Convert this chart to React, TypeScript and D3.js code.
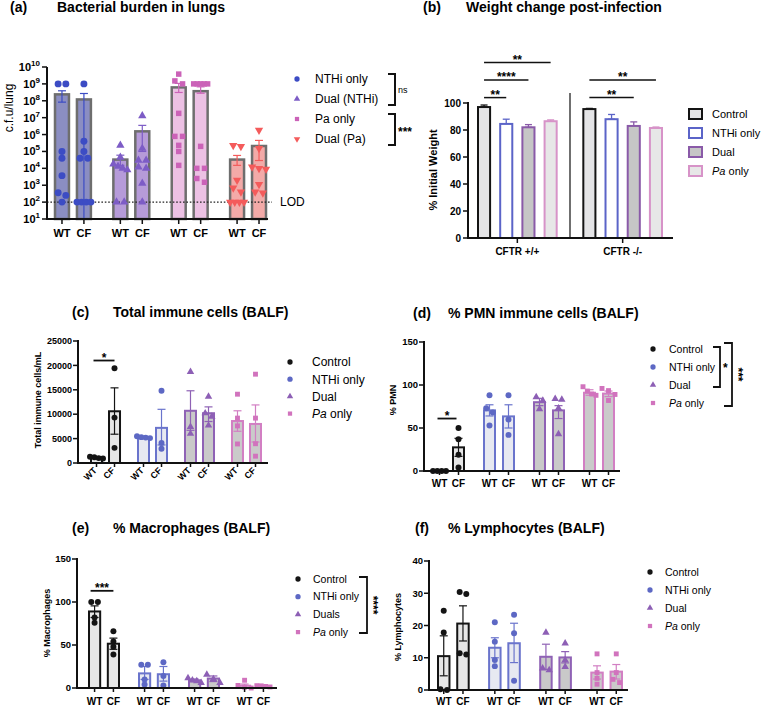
import React, { useEffect, useRef } from "react";
import * as d3 from "d3";

const FONT = "'Liberation Sans', Arial, Helvetica, sans-serif";

// ---------------- Panel (a): bacterial burden ----------------
const groupsA = ["NTHi only", "Dual (NTHi)", "Pa only", "Dual (Pa)"];
const genotypes = ["WT", "CF"];
const meansA = [[2.4e8, 1.2e8], [3.3e4, 1.55e6], [6.2e8, 3.7e8], [3.3e4, 2.1e5]];
const errLowA = [[8.3e7, 10], [1.5e4, 1e5], [3.1e8, 2.8e8], [1.5e4, 2.9e4]];
const errHighA = [[3.9e8, 2.7e8], [6e4, 3.5e6], [1.07e9, 6.7e8], [5.8e4, 4.5e5]];
const pointsA = [
  [[1e9, 1e9, 1e5, 4e4, 3.7e3, 3.6e2, 2.5e2, 1e2], [1e9, 4e5, 1e5, 4e4, 4e4, 1e2, 1e2, 1e2, 1e2]],
  [[2.3e5, 4.5e4, 1.8e4, 1.3e4, 1e4, 8e3, 1e2, 1e2], [1.3e7, 1.5e5, 3e4, 3e4, 1.2e4, 1e4, 1.3e3, 1e2]],
  [[3.8e9, 1.5e9, 1e9, 1.8e7, 7.8e5, 7.8e5, 2.3e5, 1e5, 1.5e4], [1e9, 1e9, 1e9, 1e9, 1e9, 2e5, 1e4, 1e4, 2.5e3, 1.5e3]],
  [[2.3e5, 2e5, 2e3, 7e2, 4e2, 1e2, 1e2, 1e2, 1e2], [1.8e6, 1.5e5, 1.2e4, 1e4, 9e3, 1.1e3, 4e2, 3.5e2]],
];
const ticksA = [1e1, 1e2, 1e3, 1e4, 1e5, 1e6, 1e7, 1e8, 1e9, 1e10];
const lodA = 100;
const barFillA = ["#8b8ec2", "#b69bd9", "#ecc1e4", "#f3aaa8"];
const pointColA = ["#3c4cc4", "#7d5cc6", "#cb62b8", "#f45b5b"];
const symA = ["circle", "triangle", "square", "triangleDown"];
const sigA = [["ns", 0, 1], ["***", 2, 3]];

// ---------------- Panel (b): weight change ----------------
const genotypeB = ["CFTR +/+", "CFTR -/-"];
const treatmentsB = ["Control", "NTHi only", "Dual", "Pa only"];
const meansB = [[97, 84.5, 82, 86.5], [95.5, 88, 83, 81.5]];
const semB = [[1.5, 3.5, 2, 1], [0.5, 3.5, 3, 0.7]];
const ticksB = [0, 20, 40, 60, 80, 100];
// [genotype, from treatment, to treatment, y value, label]
const sigB: [number, number, number, number, string][] = [
  [0, 0, 3, 130, "**"],
  [0, 0, 2, 117, "****"],
  [0, 0, 1, 104, "**"],
  [1, 0, 3, 117, "**"],
  [1, 0, 2, 104, "**"],
];

// ---------------- Panels (c)-(f): BALF ----------------
const treatments = ["Control", "NTHi only", "Dual", "Pa only"];
const treatmentsE = ["Control", "NTHi only", "Duals", "Pa only"];

const meansC = [[1100, 10600], [5300, 7200], [10700, 10200], [8600, 8000]];
const errLoC = [[950, 5900], [5150, 3700], [6700, 8500], [6500, 4300]];
const errHiC = [[1250, 15400], [5450, 11000], [14800, 11500], [10700, 11900]];
const pointsC = [
  [[1300, 1200, 1000, 900], [19400, 9300, 3100]],
  [[5500, 5300, 5200, 5100], [14800, 4100, 2900]],
  [[18700, 7400, 6000], [13600, 10200, 9500, 7700]],
  [[14100, 9200, 7600, 3900], [18200, 9200, 3950, 1400]],
];
const ticksC = [0, 5000, 10000, 15000, 20000, 25000];

const meansD = [[0, 27.5], [70.5, 63.5], [80, 70.5], [91, 90]];
const errLoD = [[0, 17], [64, 50], [76, 61], [88, 86.5]];
const errHiD = [[0, 38], [77, 77], [84.5, 76], [94.5, 93]];
const pointsD = [
  [[0, 0, 0, 0], [50, 37, 19, 4]],
  [[88, 73, 68, 53], [88, 60, 42]],
  [[86, 82, 72], [84, 83, 73, 43]],
  [[98, 93, 89.5, 88], [96, 93.5, 89, 82]],
];
const ticksD = [0, 50, 100, 150];

const meansE = [[89, 51.5], [17, 16], [9, 11], [2.7, 1.9]];
const errLoE = [[82, 45], [10, 8], [7.5, 7.5], [0.5, 1]];
const errHiE = [[95.5, 58], [25, 25], [10.5, 14], [4.6, 2.8]];
const pointsE = [
  [[100, 100, 82, 76], [66, 54, 48, 39]],
  [[27, 27, 10, 4], [30, 14, 3]],
  [[11.5, 9, 8, 6], [15.5, 10.5, 6]],
  [[9, 3, 1, 0], [2.7, 2.5, 1.8, 1.2]],
];
const ticksE = [0, 50, 100, 150];

const meansF = [[10.5, 20.6], [13.1, 14.5], [10.3, 10.1], [5.4, 5.7]];
const errLoF = [[4.4, 15.2], [10, 8.5], [6.4, 8.4], [3.4, 3.4]];
const errHiF = [[16.8, 26.1], [16.2, 20.7], [14.2, 11.9], [7.5, 7.9]];
const pointsF = [
  [[24.6, 17.8, 0.2, 0], [30.4, 29.8, 11.4, 11]],
  [[21, 15, 9.3, 7.4], [23.3, 17.6, 2.9]],
  [[17.8, 6.7, 6.2], [14.5, 9.3, 7.2]],
  [[11.2, 5.4, 3.6, 1.8], [11.2, 5.4, 3.3, 2.3]],
];
const ticksF = [0, 10, 20, 30, 40];

const strokeT = ["#141414", "#6a74cc", "#8f62b5", "#d27fc3"];
const fillT = ["#e6e6e6", "#e7e9f1", "#c9c9c9", "#cacaca"];
const pointT = ["#141414", "#5d68c4", "#8d5fb5", "#d173bd"];
const symT = ["circle", "circle", "triangle", "square"];
const fillB = ["#e4e4e6", "#ffffff", "#c6c6c6", "#e7e7e7"];
const strokeB = ["#141414", "#5b64c8", "#8a5aa8", "#d793c8"];

type Sel = d3.Selection<any, any, any, any>;

function symbolPath(type: string, size: number) {
  const t =
    type === "circle" ? d3.symbolCircle : type === "square" ? d3.symbolSquare : d3.symbolTriangle;
  return d3.symbol().type(t).size(size)() as string;
}

function drawSym(g: Sel, type: string, x: number, y: number, size: number, color: string) {
  g.append("path")
    .attr("d", symbolPath(type, size))
    .attr("transform", `translate(${x},${y})${type === "triangleDown" ? " rotate(180)" : ""}`)
    .attr("fill", color);
}

function swarm(vals: number[], ys: (v: number) => number, cx: number, r: number, maxW: number) {
  const items = vals.map((v) => ({ v, y: ys(v) })).sort((a, b) => a.y - b.y);
  const clusters: { v: number; y: number }[][] = [];
  let cur: { v: number; y: number }[] = [];
  for (const it of items) {
    if (cur.length && it.y - cur[cur.length - 1].y > r * 1.6) {
      clusters.push(cur);
      cur = [];
    }
    cur.push(it);
  }
  if (cur.length) clusters.push(cur);
  const out: { x: number; y: number }[] = [];
  for (const c of clusters) {
    const n = c.length;
    const step = n > 1 ? Math.min(r * 2.2, maxW / (n - 1)) : 0;
    c.forEach((it, k) => out.push({ x: cx + (k - (n - 1) / 2) * step, y: it.y }));
  }
  return out;
}

function title(g: Sel, tag: string, tagX: number, text: string, textX: number, y: number) {
  g.append("text").attr("x", tagX).attr("y", y).attr("font-size", 14).attr("font-weight", "bold").text(tag);
  g.append("text").attr("x", textX).attr("y", y).attr("font-size", 14).attr("font-weight", "bold").text(text);
}

function errorBar(g: Sel, cx: number, y1: number, y2: number, cap: number, color: string, w = 1.2) {
  g.append("line").attr("x1", cx).attr("x2", cx).attr("y1", y1).attr("y2", y2).attr("stroke", color).attr("stroke-width", w);
  [y1, y2].forEach((yy) =>
    g.append("line").attr("x1", cx - cap).attr("x2", cx + cap).attr("y1", yy).attr("y2", yy).attr("stroke", color).attr("stroke-width", w)
  );
}

function italicPaLabel(t: Sel, label: string) {
  if (label.startsWith("Pa ")) {
    t.append("tspan").attr("font-style", "italic").text("Pa");
    t.append("tspan").text(label.slice(2));
  } else t.text(label);
}

function drawA(svg: Sel) {
  const g = svg.append("g");
  title(g, "(a)", 10, "Bacterial burden in lungs", 57, 12);
  const y = d3.scaleLog().domain([10, 1e10]).range([219, 67]);
  const axX = 47;
  const outer = d3.scaleBand<number>().domain(d3.range(groupsA.length)).range([55, 266]).paddingInner(0.385).paddingOuter(0);
  const inner = d3.scaleBand<number>().domain(d3.range(genotypes.length)).range([0, outer.bandwidth()]).paddingInner(0.364).paddingOuter(0);
  const bw = inner.bandwidth();

  groupsA.forEach((_, gi) => {
    genotypes.forEach((_, i) => {
      const x0 = outer(gi)! + inner(i)!;
      g.append("rect")
        .attr("x", x0).attr("y", y(meansA[gi][i]))
        .attr("width", bw).attr("height", y(10) - y(meansA[gi][i]))
        .attr("fill", barFillA[gi]).attr("stroke", "#6e6e6e").attr("stroke-width", 2.5);
    });
  });
  g.append("line").attr("x1", axX).attr("x2", 272).attr("y1", y(lodA)).attr("y2", y(lodA))
    .attr("stroke", "#222").attr("stroke-width", 1.4).attr("stroke-dasharray", "1.6,1.8");
  g.append("text").attr("x", 280).attr("y", y(lodA) + 4).attr("font-size", 12).text("LOD");

  groupsA.forEach((_, gi) => {
    genotypes.forEach((gt, i) => {
      const x0 = outer(gi)! + inner(i)!;
      const cx = x0 + bw / 2;
      errorBar(g, cx, y(Math.max(10, errLowA[gi][i])), y(errHighA[gi][i]), 4, pointColA[gi], 1.2);
      swarm(pointsA[gi][i], (v) => y(v), cx, 3.5, bw).forEach((p) =>
        drawSym(g, symA[gi], p.x, p.y, symA[gi] === "circle" ? 38 : 30, pointColA[gi])
      );
      g.append("line").attr("x1", cx).attr("x2", cx).attr("y1", 219).attr("y2", 224).attr("stroke", "#111").attr("stroke-width", 1.5);
      g.append("text").attr("x", cx).attr("y", 237).attr("text-anchor", "middle").attr("font-size", 11).attr("font-weight", "bold").text(gt);
    });
  });

  // axes
  g.append("line").attr("x1", axX).attr("x2", axX).attr("y1", 67).attr("y2", 220).attr("stroke", "#111").attr("stroke-width", 2);
  g.append("line").attr("x1", axX - 1).attr("x2", 268).attr("y1", 219).attr("y2", 219).attr("stroke", "#111").attr("stroke-width", 2);
  ticksA.forEach((t) => {
    g.append("line").attr("x1", axX - 5).attr("x2", axX).attr("y1", y(t)).attr("y2", y(t)).attr("stroke", "#111").attr("stroke-width", 1.5);
    const tx = g.append("text").attr("x", axX - 7).attr("y", y(t) + 4).attr("text-anchor", "end").attr("font-size", 11).attr("font-weight", "bold");
    tx.append("tspan").text("10");
    tx.append("tspan").attr("dy", -5).attr("font-size", 8).text(String(Math.round(Math.log10(t))));
  });
  g.append("text").attr("transform", "translate(13,108) rotate(-90)").attr("text-anchor", "middle").attr("font-size", 12).text("c.f.u/lung");

  // legend
  const legY = (i: number) => 79 + i * 20;
  groupsA.forEach((name, gi) => {
    const ly = legY(gi);
    drawSym(g, symA[gi], 297, ly, symA[gi] === "circle" ? 22 : 18, pointColA[gi]);
    g.append("text").attr("x", 315).attr("y", ly + 4).attr("font-size", 12).text(name);
  });
  sigA.forEach(([lab, a, b]) => {
    const y1 = legY(a as number) - 5;
    const y2 = legY(b as number) + 6;
    g.append("path").attr("d", `M388,${y1}H395V${y2}H388`).attr("fill", "none").attr("stroke", "#111").attr("stroke-width", 2);
    g.append("text").attr("x", 398).attr("y", (y1 + y2) / 2 + (lab === "ns" ? 3 : 6))
      .attr("font-size", lab === "ns" ? 9 : 12).attr("font-weight", lab === "ns" ? "normal" : "bold").text(lab as string);
  });
}

function drawB(svg: Sel) {
  const g = svg.append("g");
  title(g, "(b)", 423, "Weight change post-infection", 466, 12);
  const y = d3.scaleLinear().domain([0, 100]).range([238, 103]);
  const axX = 468;
  const outer = d3.scaleBand<number>().domain(d3.range(genotypeB.length)).range([477, 663]).paddingInner(0.234).paddingOuter(0);
  const inner = d3.scaleBand<number>().domain(d3.range(treatmentsB.length)).range([0, outer.bandwidth()]).paddingInner(0.365).paddingOuter(0);
  const bw = inner.bandwidth();
  const cxOf = (gi: number, ti: number) => outer(gi)! + inner(ti)! + bw / 2;

  genotypeB.forEach((gname, gi) => {
    treatmentsB.forEach((_, ti) => {
      const x0 = outer(gi)! + inner(ti)!;
      const cx = x0 + bw / 2;
      const m = meansB[gi][ti];
      errorBar(g, cx, y(m), y(m + semB[gi][ti]), 3.5, strokeB[ti], 1.3);
      g.append("rect").attr("x", x0 + 1).attr("y", y(m)).attr("width", bw - 2).attr("height", y(0) - y(m))
        .attr("fill", fillB[ti]).attr("stroke", strokeB[ti]).attr("stroke-width", 2);
    });
    const gc = outer(gi)! + outer.bandwidth() / 2;
    g.append("line").attr("x1", gc).attr("x2", gc).attr("y1", 238).attr("y2", 243).attr("stroke", "#111").attr("stroke-width", 1.5);
    g.append("text").attr("x", gc).attr("y", 255).attr("text-anchor", "middle").attr("font-size", 10).attr("font-weight", "bold").text(gname);
  });
  // separator
  const sep = (outer(0)! + outer.bandwidth() + outer(1)!) / 2;
  g.append("line").attr("x1", sep).attr("x2", sep).attr("y1", 93).attr("y2", 238).attr("stroke", "#222").attr("stroke-width", 1.3);

  sigB.forEach(([gi, a, b, v, lab]) => {
    const yy = y(v);
    const x1 = cxOf(gi, a), x2 = cxOf(gi, b);
    g.append("line").attr("x1", x1).attr("x2", x2).attr("y1", yy).attr("y2", yy).attr("stroke", "#111").attr("stroke-width", 1.5);
    g.append("text").attr("x", (x1 + x2) / 2).attr("y", yy + 1).attr("text-anchor", "middle").attr("font-size", 12).attr("font-weight", "bold").text(lab);
  });

  g.append("line").attr("x1", axX).attr("x2", axX).attr("y1", 102).attr("y2", 239).attr("stroke", "#111").attr("stroke-width", 2);
  g.append("line").attr("x1", axX - 1).attr("x2", 673).attr("y1", 238).attr("y2", 238).attr("stroke", "#111").attr("stroke-width", 2);
  ticksB.forEach((t) => {
    g.append("line").attr("x1", axX - 5).attr("x2", axX).attr("y1", y(t)).attr("y2", y(t)).attr("stroke", "#111").attr("stroke-width", 1.5);
    g.append("text").attr("x", axX - 7).attr("y", y(t) + 3.5).attr("text-anchor", "end").attr("font-size", 10).attr("font-weight", "bold").text(t);
  });
  g.append("text").attr("transform", "translate(437,170) rotate(-90)").attr("text-anchor", "middle").attr("font-size", 11).attr("font-weight", "bold").text("% Initial Weight");

  treatmentsB.forEach((name, ti) => {
    const ly = 114 + ti * 19;
    g.append("rect").attr("x", 689).attr("y", ly - 5).attr("width", 13).attr("height", 10)
      .attr("fill", fillB[ti]).attr("stroke", strokeB[ti]).attr("stroke-width", 2);
    const t = g.append("text").attr("x", 712).attr("y", ly + 4).attr("font-size", 11);
    italicPaLabel(t, name);
  });
}

interface BalfCfg {
  tag: string; tagX: number; text: string; textX: number; titleY: number;
  y: d3.ScaleLinear<number, number>; ticks: number[]; axX: number; axRight: number; tickFs: number;
  barRange: [number, number]; pad: number; innerPad: number;
  means: number[][]; lo: number[][]; hi: number[][]; pts: number[][][];
  rotLabels: boolean; xLabY: number; xLabFs: number;
  yLabel: string; yLabX: number; yLabY: number; yLabFs: number;
  legendX: number; legendY: number; legendDy: number; legendTextX: number; legendFs: number; legendLabels: string[];
  sig: [number, number, string]; sigPad: [number, number];
  brackets: { x: number; y1: number; y2: number; label: string; w: number }[];
}

function drawBalf(svg: Sel, c: BalfCfg) {
  const g = svg.append("g");
  title(g, c.tag, c.tagX, c.text, c.textX, c.titleY);
  const y = c.y;
  const y0 = y(0);
  const outer = d3.scaleBand<number>().domain(d3.range(4)).range(c.barRange).paddingInner(c.pad).paddingOuter(0);
  const inner = d3.scaleBand<number>().domain(d3.range(2)).range([0, outer.bandwidth()]).paddingInner(c.innerPad).paddingOuter(0);
  const bw = inner.bandwidth();
  const cxOf = (gi: number, i: number) => outer(gi)! + inner(i)! + bw / 2;

  c.means.forEach((row, gi) => {
    row.forEach((m, i) => {
      const x0 = outer(gi)! + inner(i)!;
      const cx = x0 + bw / 2;
      g.append("rect").attr("x", x0 + 1).attr("y", y(m)).attr("width", bw - 2).attr("height", Math.max(0, y0 - y(m)))
        .attr("fill", fillT[gi]).attr("stroke", strokeT[gi]).attr("stroke-width", 2);
      if (c.hi[gi][i] > c.lo[gi][i]) errorBar(g, cx, y(c.lo[gi][i]), y(c.hi[gi][i]), 4, strokeT[gi], 1.2);
      swarm(c.pts[gi][i], (v) => y(v), cx, 3, bw).forEach((p) =>
        drawSym(g, symT[gi], p.x, p.y, symT[gi] === "circle" ? 28 : 24, pointT[gi])
      );
      g.append("line").attr("x1", cx).attr("x2", cx).attr("y1", y0).attr("y2", y0 + 4).attr("stroke", "#111").attr("stroke-width", 1.5);
      if (c.rotLabels) {
        g.append("text").attr("transform", `translate(${cx + 1},${y0 + 8}) rotate(-45)`).attr("text-anchor", "end")
          .attr("font-size", c.xLabFs).attr("font-weight", "bold").text(genotypes[i]);
      } else {
        g.append("text").attr("x", cx).attr("y", c.xLabY).attr("text-anchor", "middle").attr("font-size", c.xLabFs).attr("font-weight", "bold").text(genotypes[i]);
      }
    });
  });

  // significance
  const [sv, , lab] = c.sig;
  if (lab) {
    const sy = y(sv);
    const x1 = cxOf(0, 0) + c.sigPad[0], x2 = cxOf(0, 1) + c.sigPad[1];
    g.append("line").attr("x1", x1).attr("x2", x2).attr("y1", sy).attr("y2", sy).attr("stroke", "#111").attr("stroke-width", 1.8);
    g.append("text").attr("x", (x1 + x2) / 2).attr("y", sy + 1).attr("text-anchor", "middle").attr("font-size", 12).attr("font-weight", "bold").text(lab);
  }

  // axes
  const yTop = y(c.ticks[c.ticks.length - 1]);
  g.append("line").attr("x1", c.axX).attr("x2", c.axX).attr("y1", yTop - 1).attr("y2", y0 + 1).attr("stroke", "#111").attr("stroke-width", 2);
  g.append("line").attr("x1", c.axX - 1).attr("x2", c.axRight).attr("y1", y0).attr("y2", y0).attr("stroke", "#111").attr("stroke-width", 2);
  c.ticks.forEach((t) => {
    g.append("line").attr("x1", c.axX - 5).attr("x2", c.axX).attr("y1", y(t)).attr("y2", y(t)).attr("stroke", "#111").attr("stroke-width", 1.5);
    g.append("text").attr("x", c.axX - 6).attr("y", y(t) + c.tickFs * 0.36).attr("text-anchor", "end").attr("font-size", c.tickFs).attr("font-weight", "bold").text(t);
  });
  g.append("text").attr("transform", `translate(${c.yLabX},${c.yLabY}) rotate(-90)`).attr("text-anchor", "middle")
    .attr("font-size", c.yLabFs).attr("font-weight", "bold").text(c.yLabel);

  // legend
  c.legendLabels.forEach((name, ti) => {
    const ly = c.legendY + ti * c.legendDy;
    drawSym(g, symT[ti], c.legendX, ly, symT[ti] === "circle" ? 22 : 18, pointT[ti]);
    const t = g.append("text").attr("x", c.legendTextX).attr("y", ly + c.legendFs * 0.36).attr("font-size", c.legendFs);
    italicPaLabel(t, name);
  });
  c.brackets.forEach((b) => {
    g.append("path").attr("d", `M${b.x - b.w},${b.y1}H${b.x}V${b.y2}H${b.x - b.w}`).attr("fill", "none").attr("stroke", "#111").attr("stroke-width", 1.8);
    if (b.label === "*") {
      g.append("text").attr("x", b.x + 3).attr("y", (b.y1 + b.y2) / 2 + 5).attr("font-size", 12).attr("font-weight", "bold").text("*");
    } else {
      g.append("text").attr("transform", `translate(${b.x + 2},${(b.y1 + b.y2) / 2}) rotate(90)`).attr("text-anchor", "middle")
        .attr("font-size", 12).attr("font-weight", "bold").text(b.label);
    }
  });
}

export default function App() {
  const ref = useRef<SVGSVGElement>(null);
  useEffect(() => {
    const svg = d3.select(ref.current);
    svg.selectAll("*").remove();
    svg.append("rect").attr("width", 761).attr("height", 707).attr("fill", "#fff");
    drawA(svg);
    drawB(svg);
    drawBalf(svg, {
      tag: "(c)", tagX: 72, text: "Total immune cells (BALF)", textX: 113, titleY: 317,
      y: d3.scaleLinear().domain([0, 25000]).range([463, 341]), ticks: ticksC, axX: 78, axRight: 268, tickFs: 9,
      barRange: [90, 262], pad: 0.34, innerPad: 0.278,
      means: meansC, lo: errLoC, hi: errHiC, pts: pointsC,
      rotLabels: true, xLabY: 0, xLabFs: 9,
      yLabel: "Total immune cells/mL", yLabX: 41, yLabY: 400, yLabFs: 9,
      legendX: 290, legendY: 362, legendDy: 17.2, legendTextX: 312, legendFs: 12, legendLabels: treatments,
      sig: [21000, 0, "*"], sigPad: [-3, 0], brackets: [],
    });
    drawBalf(svg, {
      tag: "(d)", tagX: 413, text: "% PMN immune cells (BALF)", textX: 448, titleY: 318,
      y: d3.scaleLinear().domain([0, 150]).range([471, 342]), ticks: ticksD, axX: 424, axRight: 620, tickFs: 9.5,
      barRange: [433, 615], pad: 0.36, innerPad: 0.316,
      means: meansD, lo: errLoD, hi: errHiD, pts: pointsD,
      rotLabels: false, xLabY: 487, xLabFs: 10,
      yLabel: "% PMN", yLabX: 396, yLabY: 400, yLabFs: 9,
      legendX: 653, legendY: 349, legendDy: 18, legendTextX: 669, legendFs: 10.5, legendLabels: treatments,
      sig: [61, 0, "*"], sigPad: [-2, -2],
      brackets: [
        { x: 720, y1: 347, y2: 387, label: "*", w: 7 },
        { x: 732, y1: 343, y2: 406, label: "***", w: 8 },
      ],
    });
    drawBalf(svg, {
      tag: "(e)", tagX: 72, text: "% Macrophages (BALF)", textX: 113, titleY: 533,
      y: d3.scaleLinear().domain([0, 150]).range([688, 559]), ticks: ticksE, axX: 77, axRight: 277, tickFs: 9.5,
      barRange: [88, 270], pad: 0.36, innerPad: 0.3,
      means: meansE, lo: errLoE, hi: errHiE, pts: pointsE,
      rotLabels: false, xLabY: 705, xLabFs: 10,
      yLabel: "% Macrophages", yLabX: 50, yLabY: 623, yLabFs: 9,
      legendX: 298, legendY: 579, legendDy: 17.7, legendTextX: 313, legendFs: 10.5, legendLabels: treatmentsE,
      sig: [113, 0, "***"], sigPad: [-4, 0],
      brackets: [{ x: 367, y1: 577, y2: 633, label: "****", w: 8 }],
    });
    drawBalf(svg, {
      tag: "(f)", tagX: 415, text: "% Lymphocytes (BALF)", textX: 448, titleY: 533,
      y: d3.scaleLinear().domain([0, 40]).range([690, 561]), ticks: ticksF, axX: 429, axRight: 628, tickFs: 9.5,
      barRange: [437, 623], pad: 0.36, innerPad: 0.3,
      means: meansF, lo: errLoF, hi: errHiF, pts: pointsF,
      rotLabels: false, xLabY: 705, xLabFs: 10,
      yLabel: "% Lymphocytes", yLabX: 401, yLabY: 627, yLabFs: 9,
      legendX: 650, legendY: 572, legendDy: 18, legendTextX: 665, legendFs: 10.5, legendLabels: treatments,
      sig: [0, 0, ""], sigPad: [0, 0], brackets: [],
    });
  }, []);
  return (
    <svg
      ref={ref}
      width={761}
      height={707}
      style={{ position: "absolute", left: 0, top: 0, fontFamily: FONT }}
      fontFamily={FONT}
    />
  );
}
